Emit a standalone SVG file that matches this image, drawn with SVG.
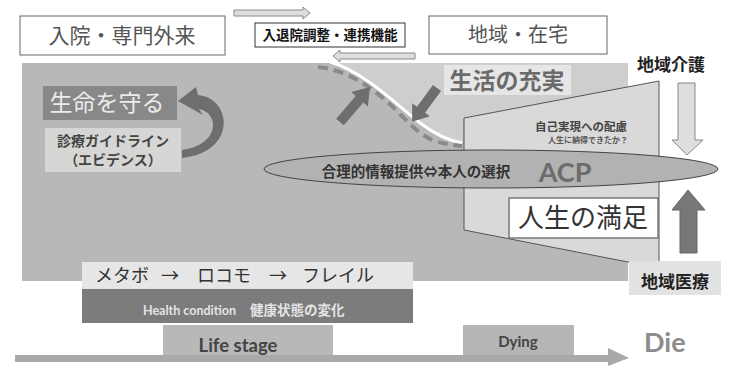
<svg xmlns="http://www.w3.org/2000/svg" width="733" height="366" viewBox="0 0 733 366">
<style>
.jp{font-family:"Noto Sans CJK JP","Noto Sans",sans-serif}
.lat{font-family:Lato,"Open Sans",sans-serif;font-weight:bold}
.box{fill:#ffffff;stroke:#666;stroke-width:1}
.blk{fill:#6e6e6e}
.hollow{fill:#dedede;stroke:#888;stroke-width:1}
</style>
<rect width="733" height="366" fill="#ffffff"/>
<g id="background">
<rect x="22" y="63" width="606" height="218" fill="#b8b8b6"/>
<path d="M330,63 L628,63 L628,90 L463,118 L463,143 C445,140 432,132 420,123 C400,108 365,72 330,63 Z" fill="#cecece"/>
<path d="M330,62 C365,72 400,108 420,123 C432,132 445,140 462,143" fill="none" stroke="#ffffff" stroke-width="3"/>
<path d="M318,67 C348,70 372,88 392,106 C408,122 420,136 435,141 C445,144 452,145 462,146" fill="none" stroke="#8a8a8a" stroke-width="4" stroke-dasharray="10,6"/>
<path d="M464,118 L659,81 L659,262 L628,262 L464,230 Z" fill="#d9d9d9" stroke="#555" stroke-width="1"/>
</g>
<g id="connectors">
<path class="hollow" d="M234,10 L303,10 L303,7 L310,13 L303,19 L303,16 L234,16 Z"/>
<path class="hollow" d="M415,53 L340,53 L340,50 L333,56 L340,62 L340,59 L415,59 Z"/>
<path class="blk" d="M198,95 C232,98 238,152 182,158 L182,150 C220,145 220,113 199,109 L203,115 L178,101 L196,87 Z"/>
<polygon class="blk" points="0,-5 30,-5 30,-11 46,0 30,11 30,5 0,5" transform="translate(340,122) rotate(-49.4)"/>
<polygon class="blk" points="0,-5 27,-5 27,-11 42,0 27,11 27,5 0,5" transform="translate(437,88) rotate(126.3)"/>
<path class="hollow" d="M678,83 L695,83 L695,140 L703,140 L687,155 L672,140 L678,140 Z"/>
<path d="M680,253 L680,210 L672,210 L688,190 L705,210 L697,210 L697,253 Z" fill="#777" stroke="#666" stroke-width="1"/>
<path d="M15,355 L608,355 L608,348 L629,358 L608,366 L608,362 L15,362 Z" fill="#a9a9a9"/>
</g>
<g id="node-nyuin">
<rect class="box" x="20" y="16" width="205" height="39" stroke="#777"/>
<text class="jp" x="122" y="43" font-size="21" fill="#555" text-anchor="middle">入院・専門外来</text>
</g>
<g id="node-renkei">
<rect x="255" y="23" width="150" height="24" fill="#fff" stroke="#333" stroke-width="1"/>
<text class="jp" x="330" y="40" font-size="13.5" font-weight="bold" fill="#111" text-anchor="middle">入退院調整・連携機能</text>
</g>
<g id="node-chiiki">
<rect class="box" x="429" y="16" width="178" height="38" stroke="#777"/>
<text class="jp" x="518" y="42" font-size="20" fill="#555" text-anchor="middle">地域・在宅</text>
</g>
<g id="node-seimei">
<rect x="43" y="86" width="134" height="34" fill="#888"/>
<text class="jp" x="107" y="111" font-size="23" fill="#ececec" text-anchor="middle">生命を守る</text>
</g>
<g id="node-guideline">
<rect x="45" y="128" width="136" height="44" fill="#d6d6d4"/>
<text class="jp" x="113" y="146" font-size="14" font-weight="bold" fill="#444" text-anchor="middle">診療ガイドライン</text>
<text class="jp" x="113" y="165" font-size="14" font-weight="bold" fill="#444" text-anchor="middle">（エビデンス）</text>
</g>
<g id="node-seikatsu">
<rect x="444" y="65" width="127" height="30" fill="#e6e6e6"/>
<text class="jp" x="507" y="89" font-size="23" font-weight="bold" fill="#6a6a6a" text-anchor="middle">生活の充実</text>
</g>
<g id="node-jiko">
<text class="jp" x="581" y="131" font-size="11.5" font-weight="bold" fill="#444" text-anchor="middle">自己実現への配慮</text>
<text class="jp" x="588" y="143" font-size="8" font-weight="bold" fill="#555" text-anchor="middle">人生に納得できたか？</text>
</g>
<g id="node-acp">
<ellipse cx="491" cy="169" rx="227" ry="19" fill="#b2b2b2" stroke="#444" stroke-width="1"/>
<text class="jp" x="416" y="177" font-size="14.5" font-weight="bold" fill="#333" text-anchor="middle">合理的情報提供⇔本人の選択</text>
<text class="lat" x="565" y="182" font-size="27" fill="#6c6c6c" text-anchor="middle">ACP</text>
</g>
<g id="node-manzoku">
<rect x="509" y="198" width="149" height="40" fill="#fff" stroke="#777" stroke-width="1.5"/>
<text class="jp" x="583" y="227" font-size="26" fill="#333" text-anchor="middle">人生の満足</text>
</g>
<g id="node-kaigo">
<text class="jp" x="671" y="71" font-size="17" font-weight="bold" fill="#222" text-anchor="middle">地域介護</text>
</g>
<g id="node-iryo">
<rect x="629" y="261" width="92" height="34" fill="#e2e2e2"/>
<text class="jp" x="675" y="288" font-size="17" font-weight="bold" fill="#222" text-anchor="middle">地域医療</text>
</g>
<g id="node-health">
<rect x="82" y="262" width="331" height="27" fill="#e6e6e6"/>
<text class="jp" x="95" y="282" font-size="18" fill="#333">メタボ</text>
<text class="jp" x="170" y="282" font-size="18" fill="#333" text-anchor="middle">→</text>
<text class="jp" x="197" y="282" font-size="18" fill="#333">ロコモ</text>
<text class="jp" x="278" y="282" font-size="18" fill="#333" text-anchor="middle">→</text>
<text class="jp" x="302" y="282" font-size="18" fill="#333">フレイル</text>
<rect x="82" y="289" width="331" height="34" fill="#7c7c7c"/>
<text class="lat" x="143" y="315" font-size="12.5" fill="#e4e4e4">Health condition</text>
<text class="jp" x="250" y="315" font-size="13.5" font-weight="bold" fill="#e4e4e4">健康状態の変化</text>
</g>
<g id="node-lifestage">
<rect x="163" y="325" width="170" height="30" fill="#b8b8b8"/>
<text class="lat" x="238" y="352" font-size="18.5" fill="#444" text-anchor="middle">Life stage</text>
</g>
<g id="node-dying">
<rect x="463" y="325" width="111" height="30" fill="#b5b5b5"/>
<text class="lat" x="518" y="347" font-size="15" fill="#444" text-anchor="middle">Dying</text>
</g>
<g id="node-die">
<text class="lat" x="644" y="352" font-size="27" fill="#8c8c8c">Die</text>
</g>
</svg>
